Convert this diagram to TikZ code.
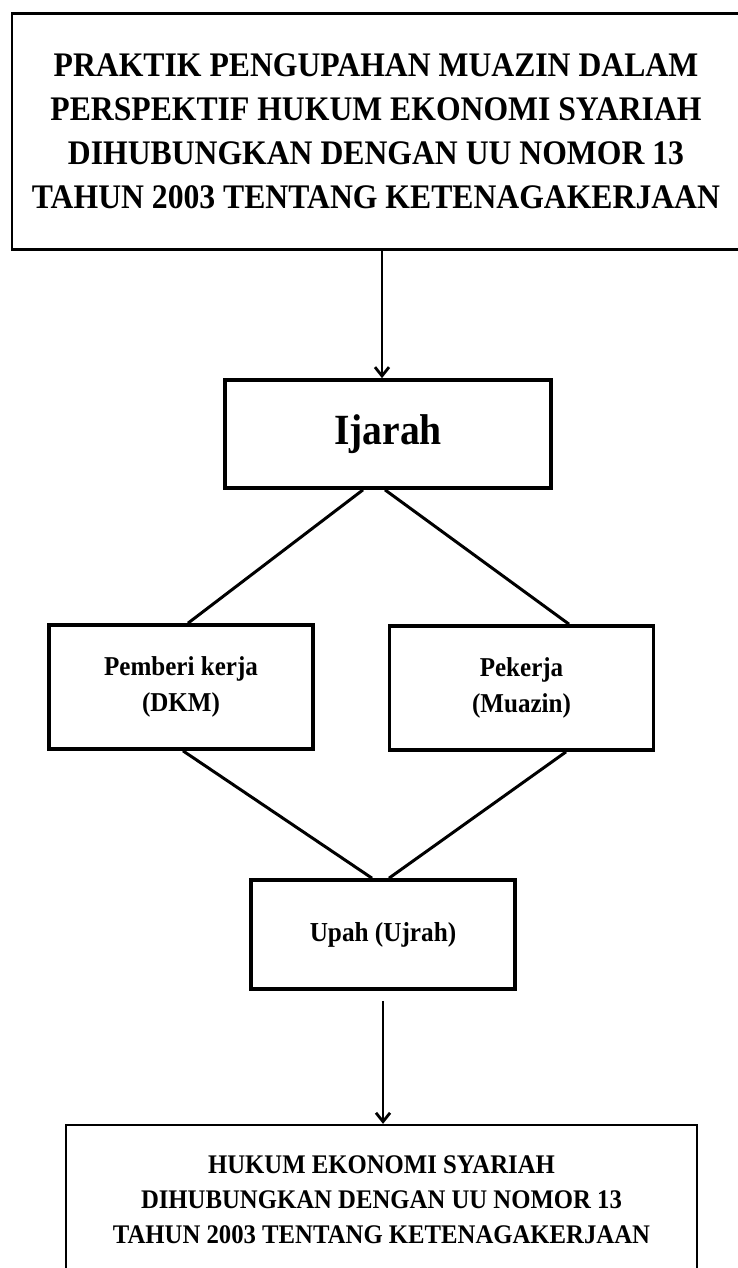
\documentclass[tikz,border=0pt]{standalone}
\usepackage{fontspec}
\setmainfont[FakeStretch=0.92]{Liberation Serif}
\usetikzlibrary{arrows.meta,positioning,calc}

\begin{document}
\begin{tikzpicture}[
                box/.style={rectangle, draw, align=center, inner sep=0pt, line width=2.1pt},
                titlebox/.style={box, line width=1.7pt, minimum width=14.56cm, minimum height=4.72cm,
                        font=\bfseries\fontsize{19.6}{25}\selectfont},
                ijarahbox/.style={box, minimum width=6.52cm, minimum height=2.16cm,
                        font=\bfseries\fontsize{24.5}{28}\selectfont},
                partybox/.style={box, minimum width=5.28cm, minimum height=2.48cm,
                        font=\bfseries\fontsize{15.5}{20.5}\selectfont},
                upahbox/.style={box, minimum width=5.28cm, minimum height=2.18cm,
                        font=\bfseries\fontsize{15.6}{20.5}\selectfont},
                resultbox/.style={box, line width=1.3pt, minimum width=12.62cm, minimum height=3.0cm,
                        font=\bfseries\fontsize{15.3}{19.9}\selectfont},
                edge/.style={draw, line width=1.7pt},
                arrow/.style={edge, line width=1.6pt, -{Straight Barb[length=5pt,width=8pt]}},
            ]
            \useasboundingbox (0,0) rectangle (14.74,-25.36);

            % ── Title ─────────────────────────────────────────────
            \node[titlebox] (title) at (7.52,-2.62) {PRAKTIK PENGUPAHAN MUAZIN DALAM\\
                PERSPEKTIF HUKUM EKONOMI SYARIAH\\
                DIHUBUNGKAN DENGAN UU NOMOR 13\\
                TAHUN 2003 TENTANG KETENAGAKERJAAN};

            % ── Akad ──────────────────────────────────────────────
            \node[ijarahbox] (ijarah) at (7.76,-8.68) {Ijarah};
            \coordinate (a1) at ([xshift=-0.12cm]ijarah.north);
            \draw[arrow] (a1 |- title.south) -- (a1);

            % ── Para pihak ────────────────────────────────────────
            \node[partybox] (employer) at (3.62,-13.74) {Pemberi kerja\\(DKM)};
            \node[partybox] (worker)   at (10.43,-13.76) {Pekerja\\(Muazin)};
            \draw[edge] ([xshift=-0.5cm]ijarah.south)  -- ([xshift=0.14cm]employer.north);
            \draw[edge] ([xshift=-0.06cm]ijarah.south) -- ([xshift=0.95cm]worker.north);

            % ── Upah ──────────────────────────────────────────────
            \node[upahbox] (upah) at (7.66,-18.69) {Upah (Ujrah)};
            \draw[edge] ([xshift=0.04cm]employer.south) -- ([xshift=-0.22cm]upah.north);
            \draw[edge] ([xshift=0.89cm]worker.south)   -- ([xshift=0.12cm]upah.north);

            % ── Tinjauan hukum ────────────────────────────────────
            \node[resultbox] (law) at (7.63,-24.0) {HUKUM EKONOMI SYARIAH\\
                DIHUBUNGKAN DENGAN UU NOMOR 13\\
                TAHUN 2003 TENTANG KETENAGAKERJAAN};
            \draw[arrow] ([yshift=-0.2cm]upah.south) -- (upah.south |- law.north);
        \end{tikzpicture}
\end{document}
